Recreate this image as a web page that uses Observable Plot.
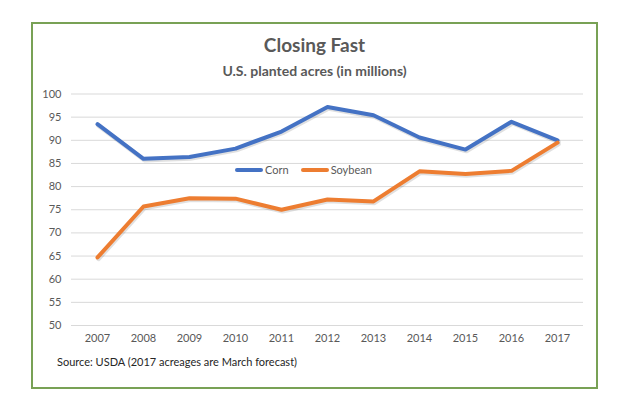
<!DOCTYPE html>
<html>
<head>
<meta charset="utf-8">
<script src="https://cdn.jsdelivr.net/npm/d3@7"></script>
<script src="https://cdn.jsdelivr.net/npm/@observablehq/plot@0.6"></script>
<style>
  html, body { margin: 0; padding: 0; background: #fff; width: 633px; height: 412px; overflow: hidden; }
  body { position: relative; font-family: Lato, "Open Sans", sans-serif; }
  #frame { position: absolute; left: 31px; top: 22px; width: 563px; height: 363px; border: 2px solid #78a155; box-sizing: content-box; }
  #title { position: absolute; left: 0; width: 629px; top: 33px; text-align: center; font-size: 19px; font-weight: bold; color: #595959; }
  #subtitle { position: absolute; left: 0; width: 629px; top: 62px; text-align: center; font-size: 14px; font-weight: bold; color: #595959; }
  #chart { position: absolute; left: 0; top: 80px; }
  #source { position: absolute; left: 57px; top: 355px; font-size: 11px; color: #262626; }
  #legend { position: absolute; top: 163px; left: 235px; font-size: 11px; color: #595959; display: flex; align-items: center; }
  .sw { display: inline-block; width: 28px; height: 4px; border-radius: 2px; margin-right: 2px; }
</style>
</head>
<body>
<div id="frame"></div>
<div id="title">Closing Fast</div>
<div id="subtitle">U.S. planted acres (in millions)</div>
<div id="chart"></div>
<div id="legend"></div>
<div id="source">Source: USDA (2017 acreages are March forecast)</div>
<script>
const years = ["2007","2008","2009","2010","2011","2012","2013","2014","2015","2016","2017"];
const corn = [93.5, 86.0, 86.4, 88.2, 91.9, 97.2, 95.4, 90.6, 88.0, 94.0, 90.0];
const soybean = [64.7, 75.7, 77.5, 77.4, 75.0, 77.2, 76.8, 83.3, 82.7, 83.4, 89.5];
const seriesNames = ["Corn", "Soybean"];
const seriesColors = ["#4472C4", "#ED7D31"];
const yTicks = [50, 55, 60, 65, 70, 75, 80, 85, 90, 95, 100];

const rows = [];
years.forEach((y, i) => {
  rows.push({year: y, value: corn[i], series: seriesNames[0]});
  rows.push({year: y, value: soybean[i], series: seriesNames[1]});
});

const chart = Plot.plot({
  width: 633,
  height: 275,
  marginLeft: 71,
  marginRight: 50,
  marginTop: 13.5,
  marginBottom: 30,
  style: {fontFamily: "Lato, 'Open Sans', sans-serif", fontSize: "11px", color: "#595959", background: "transparent"},
  x: {type: "point", domain: years, padding: 0.5, label: null},
  y: {domain: [50, 100], ticks: yTicks, label: null},
  color: {domain: seriesNames, range: seriesColors},
  marks: [
    Plot.gridY(yTicks, {stroke: "#d9d9d9", strokeOpacity: 1, strokeWidth: 1}),
    Plot.axisY(yTicks, {tickSize: 0, tickPadding: 10, label: null, fill: "#595959", fontSize: 11}),
    Plot.axisX(years, {tickSize: 0, tickPadding: 9, label: null, fill: "#595959", fontSize: 11}),
    Plot.line(rows, {x: "year", y: "value", z: "series", stroke: "#000", strokeOpacity: 0.12, strokeWidth: 4.5, dx: 1, dy: 1.5, strokeLinejoin: "round"}),
    Plot.line(rows, {x: "year", y: "value", z: "series", stroke: "series", strokeWidth: 4, strokeLinejoin: "round", strokeLinecap: "round"})
  ]
});
document.getElementById("chart").appendChild(chart);

const legend = document.getElementById("legend");
seriesNames.forEach((n, i) => {
  const item = document.createElement("span");
  item.style.display = "inline-flex";
  item.style.alignItems = "center";
  item.style.marginRight = i === 0 ? "12px" : "0";
  const sw = document.createElement("span");
  sw.className = "sw";
  sw.style.background = seriesColors[i];
  item.appendChild(sw);
  item.appendChild(document.createTextNode(n));
  legend.appendChild(item);
});
</script>
</body>
</html>
